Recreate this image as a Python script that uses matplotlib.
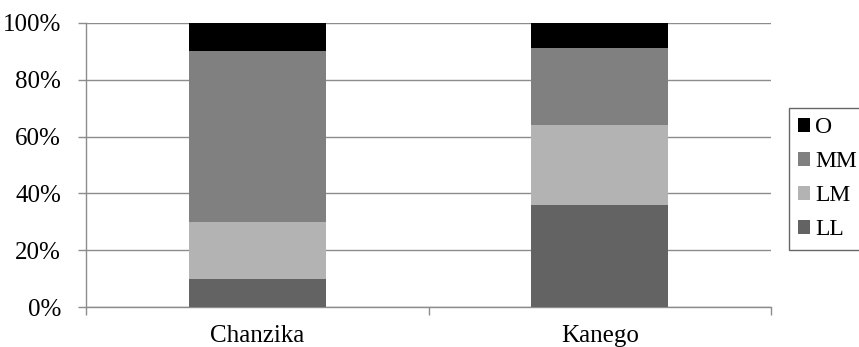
import matplotlib
matplotlib.use("Agg")
import matplotlib.pyplot as plt
import numpy as np

# Share of each class per site (percent)
sites = ["Chanzika", "Kanego"]
classes = ["LL", "LM", "MM", "O"]
ll = [10, 36]
lm = [20, 28]
mm = [60, 27]
o = [10, 9]
colors = ["#636363", "#b3b3b3", "#808080", "#000000"]

plt.rcParams["font.family"] = ["Liberation Serif", "DejaVu Serif"]
plt.rcParams["font.size"] = 18

fig = plt.figure(figsize=(8.59, 3.47), dpi=100)
ax = fig.add_axes([0.1001, 0.1144, 0.7975, 0.8202])

x = np.arange(len(sites))
bottom = np.zeros(len(sites))
handles = []
for name, vals, col in zip(classes, [ll, lm, mm, o], colors):
    bars = ax.bar(x, vals, width=0.4, bottom=bottom, color=col, edgecolor="none", zorder=3, label=name)
    handles.append(bars)
    bottom += np.asarray(vals, dtype=float)

ax.set_xlim(-0.5, 1.5)
ax.set_ylim(0, 100)
ax.set_yticks(np.arange(0, 101, 20))
ax.set_yticklabels([f"{v}%" for v in range(0, 101, 20)])
ax.yaxis.grid(True, color="#8c8c8c", linewidth=1.0, zorder=0)
ax.set_axisbelow(True)

ax.set_xticks(x)
ax.set_xticklabels(sites)
ax.set_xticks([-0.5, 0.5, 1.5], minor=True)
ax.tick_params(axis="x", which="major", length=0, pad=13)
ax.tick_params(axis="x", which="minor", length=6, color="#8c8c8c", width=1.0)
ax.tick_params(axis="y", length=6, color="#8c8c8c", width=1.0, pad=12)

for side in ("top", "right"):
    ax.spines[side].set_visible(False)
for side in ("left", "bottom"):
    ax.spines[side].set_color("#8c8c8c")
    ax.spines[side].set_linewidth(1.0)

leg = fig.legend(
    handles[::-1],
    classes[::-1],
    loc="upper left",
    bbox_to_anchor=(789 / 859, 1 - 108 / 347),
    borderaxespad=0,
    frameon=True,
    fancybox=False,
    edgecolor="#404040",
    handlelength=0.5,
    handleheight=0.5,
    handletextpad=0.2,
    labelspacing=0.55,
    borderpad=0.4,
    fontsize=17,
)
leg.get_frame().set_linewidth(1.0)

fig.savefig("out.png", dpi=100)
